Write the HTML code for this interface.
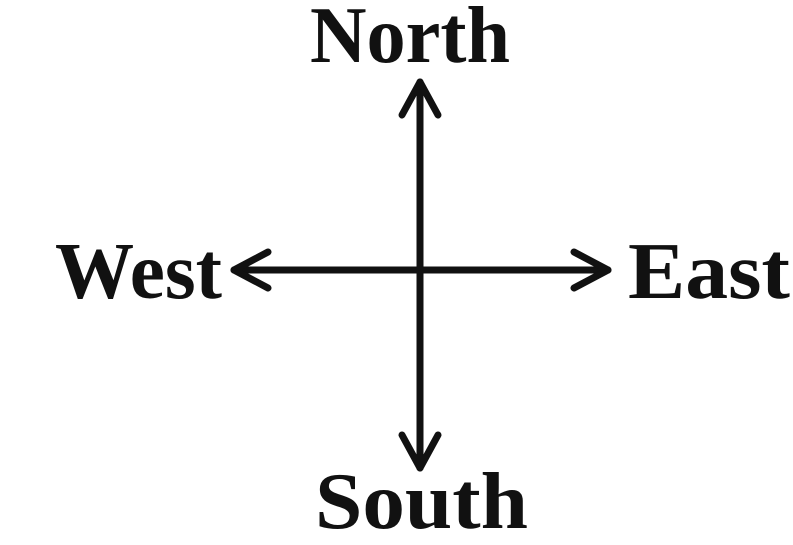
<!DOCTYPE html>
<html><head><meta charset="utf-8"><style>
html,body{margin:0;padding:0;background:#fff;}
svg{display:block}
text{font-family:"Liberation Serif",serif;font-weight:bold;fill:#111;}
</style></head><body>
<svg width="793" height="545" viewBox="0 0 793 545" xmlns="http://www.w3.org/2000/svg">
<g stroke="#111" stroke-width="7" fill="none" stroke-linecap="round" stroke-linejoin="round">
<line x1="420" y1="82" x2="420" y2="468"/>
<line x1="234" y1="270" x2="608" y2="270"/>
<polyline points="402,115 420,82 438,115"/>
<polyline points="402,435 420,468 438,435"/>
<polyline points="268,252 234,270 268,288"/>
<polyline points="574,252 608,270 574,288"/>
</g>
<text x="310" y="62" font-size="80" textLength="200" lengthAdjust="spacingAndGlyphs">North</text>
<text x="55" y="298" font-size="80" textLength="167" lengthAdjust="spacingAndGlyphs">West</text>
<text x="628" y="298" font-size="80" textLength="162" lengthAdjust="spacingAndGlyphs">East</text>
<text x="315" y="528" font-size="80" textLength="213" lengthAdjust="spacingAndGlyphs">South</text>
</svg>
</body></html>
